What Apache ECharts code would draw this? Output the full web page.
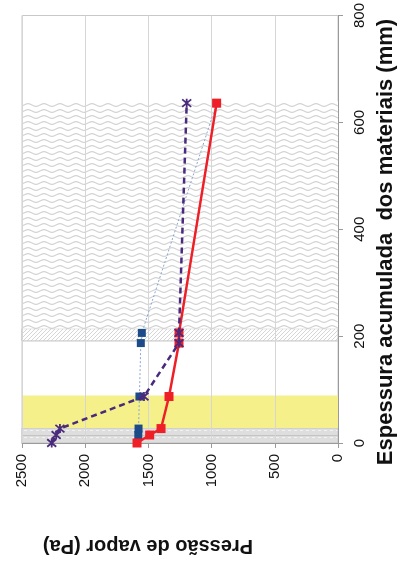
<!DOCTYPE html>
<html>
<head>
<meta charset="utf-8">
<script src="https://cdn.jsdelivr.net/npm/echarts@6/dist/echarts.min.js"></script>
<style>
html,body{margin:0;padding:0;background:#fff;}
#chart{width:398px;height:568px;}
</style>
</head>
<body>
<div id="chart"></div>
<script>
// ---- data ----
const thickness = [0, 15, 27, 87, 187, 206, 636];           // mm (accumulated)
const redValues = [1590, 1490, 1400, 1337, 1258, 1258, 960];  // Pa
const purpleValues = [2265, 2230, 2200, 1535, 1258, 1258, 1197];
const blueValues = [1590, 1580, 1578, 1571, 1560, 1552, 960];
const pressureTicks = [0, 500, 1000, 1500, 2000, 2500];
const thicknessTicks = [0, 200, 400, 600, 800];
const layerFrom = [0, 14, 28, 191, 214];
const layerTo = [14, 28, 89, 214, 640];
const layerKind = ['dots', 'dots', 'yellow', 'hatch', 'wave'];
const pressureTitle = 'Pressão de vapor (Pa)';
const thicknessTitle = 'Espessura acumulada  dos materiais (mm)';

// ---- patterns ----
function makeCanvas(w, h, draw) {
  const c = document.createElement('canvas');
  c.width = w; c.height = h;
  draw(c.getContext('2d'));
  return c;
}
const wave = makeCanvas(16, 6, g => {
  g.fillStyle = '#fff'; g.fillRect(0, 0, 16, 6);
  g.strokeStyle = '#d4d4d4'; g.lineWidth = 1.3;
  g.beginPath();
  for (let x = -1; x <= 17; x += 0.5) {
    const y = 3 + 1.3 * Math.sin(2 * Math.PI * x / 16);
    if (x === -1) g.moveTo(x, y); else g.lineTo(x, y);
  }
  g.stroke();
});
const hatch = makeCanvas(4, 4, g => {
  g.fillStyle = '#fff'; g.fillRect(0, 0, 4, 4);
  g.strokeStyle = '#d6d6d6'; g.lineWidth = 1;
  g.beginPath();
  g.moveTo(-1, 5); g.lineTo(5, -1);
  g.moveTo(-1, 1); g.lineTo(1, -1);
  g.moveTo(3, 5); g.lineTo(5, 3);
  g.stroke();
});
const dots = makeCanvas(6, 7, g => {
  g.fillStyle = '#dedede'; g.fillRect(0, 0, 6, 7);
  g.fillStyle = '#f2f2f2'; g.fillRect(0, 3, 3, 1);
});
const kindStyle = {
  dots: {color: {image: dots, repeat: 'repeat'}, borderColor: '#c4c4c4', borderWidth: 1},
  yellow: {color: '#f5f08a'},
  hatch: {color: {image: hatch, repeat: 'repeat'}, borderColor: '#c0c0c0', borderWidth: 1},
  wave: {color: {image: wave, repeat: 'repeat'}}
};

const bands = layerFrom.map((f, i) => [
  {yAxis: f, itemStyle: kindStyle[layerKind[i]]},
  {yAxis: layerTo[i]}
]);

const pair = vals => vals.map((v, i) => [v, thickness[i]]);
const font = 'Liberation Sans, Arial, sans-serif';
const plain = v => String(v);

const chart = echarts.init(document.getElementById('chart'), null, {renderer: 'canvas'});
chart.setOption({
  animation: false,
  backgroundColor: '#fff',
  grid: {left: 22, right: 60, top: 12, bottom: 125, show: true, borderColor: '#c8c8c8', borderWidth: 1, containLabel: false},
  xAxis: {
    type: 'value', inverse: true, position: 'bottom', z: 2,
    min: pressureTicks[0], max: pressureTicks[pressureTicks.length - 1],
    interval: pressureTicks[1] - pressureTicks[0],
    axisLine: {show: true, lineStyle: {color: '#9a9a9a', width: 1}},
    axisTick: {show: true, length: 5, lineStyle: {color: '#9a9a9a'}},
    splitLine: {show: true, lineStyle: {color: '#d6d6d6', width: 1}},
    axisLabel: {rotate: 90, fontSize: 15, fontFamily: font, color: '#111', margin: 11, formatter: plain}
  },
  yAxis: {
    type: 'value', position: 'right', z: 2,
    min: thicknessTicks[0], max: thicknessTicks[thicknessTicks.length - 1],
    interval: thicknessTicks[1] - thicknessTicks[0],
    axisLine: {show: true, lineStyle: {color: '#9a9a9a', width: 1}},
    axisTick: {show: true, length: 5, lineStyle: {color: '#9a9a9a'}},
    splitLine: {show: false},
    axisLabel: {rotate: 90, fontSize: 15, fontFamily: font, color: '#111', margin: 14, formatter: plain}
  },
  graphic: [
    {type: 'text', x: 148, y: 546, rotation: Math.PI,
     style: {text: pressureTitle, font: 'bold 20px ' + font, fill: '#111', align: 'center', verticalAlign: 'middle'}},
    {type: 'text', x: 386, y: 242, rotation: Math.PI / 2,
     style: {text: thicknessTitle, font: 'bold 22px ' + font, fill: '#111', align: 'center', verticalAlign: 'middle'}}
  ],
  series: [
    {
      type: 'line', z: 1, data: [], silent: true,
      markArea: {z: 1, silent: true, data: bands}
    },
    {
      type: 'line', z: 5, data: pair(blueValues),
      symbol: 'rect', symbolSize: 8,
      itemStyle: {color: '#1d4b8a'},
      lineStyle: {color: '#88a6d2', width: 1, type: [2, 2]}
    },
    {
      type: 'line', z: 6, data: pair(redValues),
      symbol: 'rect', symbolSize: 9,
      itemStyle: {color: '#ee1f27'},
      lineStyle: {color: '#ee1f27', width: 2.5}
    },
    {
      type: 'line', z: 7, data: pair(purpleValues),
      symbol: 'path://M0,0L10,10M10,0L0,10M5,-1L5,11', symbolSize: 9,
      itemStyle: {color: '#4a2a7c', borderColor: '#4a2a7c', borderWidth: 1.8},
      lineStyle: {color: '#4a2a7c', width: 2.5, type: [6, 4]}
    }
  ]
});
</script>
</body>
</html>
